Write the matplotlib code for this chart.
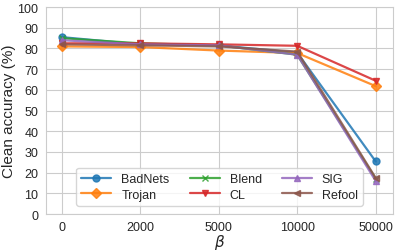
import matplotlib
matplotlib.use("Agg")
import matplotlib.pyplot as plt
import seaborn as sns
import numpy as np

sns.set_style("whitegrid")
plt.rcParams['font.family'] = ['Liberation Sans', 'DejaVu Sans']

betas = ["0", "2000", "5000", "10000", "50000"]
badnets = [85.5, 82.0, 81.5, 78.0, 25.4]
trojan = [81.0, 80.7, 79.0, 77.8, 61.8]
blend = [85.0, 82.5, 81.5, 77.0, 17.0]
cl = [82.5, 82.5, 82.0, 81.3, 64.4]
sig = [84.0, 82.0, 81.5, 77.0, 16.0]
refool = [82.0, 81.5, 81.0, 78.5, 17.4]

series = [("BadNets", badnets, "o"), ("Trojan", trojan, "D"), ("Blend", blend, "x"),
          ("CL", cl, "v"), ("SIG", sig, "^"), ("Refool", refool, "<")]
colors = plt.get_cmap("tab10").colors

fig, ax = plt.subplots(figsize=(3.99, 2.53), dpi=100)
x = np.arange(len(betas))
for i, (name, vals, m) in enumerate(series):
    ax.plot(x, vals, marker=m, color=colors[i], label=name, linewidth=1.6,
            markersize=5, alpha=0.85)

ax.set_xticks(x)
ax.set_xticklabels(betas)
ax.set_ylim(0, 100)
ax.set_yticks(range(0, 101, 10))
ax.set_xlim(-0.2, 4.22)
ax.tick_params(labelsize=9, pad=2, colors="0.15")
ax.tick_params(axis="x", pad=1.5)
ax.set_ylabel("Clean accuracy (%)", fontsize=11, color="0.15")
ax.set_xlabel(r"$\beta$", fontsize=11, color="0.15")
ax.yaxis.set_label_coords(-0.085, 0.5)
ax.xaxis.set_label_coords(0.5, -0.085)
ax.legend(ncol=3, loc="lower center", fontsize=9, bbox_to_anchor=(0.5, 0.01),
          handlelength=2.4, columnspacing=1.6, borderpad=0.4, labelspacing=0.3)
fig.subplots_adjust(left=0.115, right=0.985, top=0.968, bottom=0.15)
fig.savefig("out.png", dpi=100)
